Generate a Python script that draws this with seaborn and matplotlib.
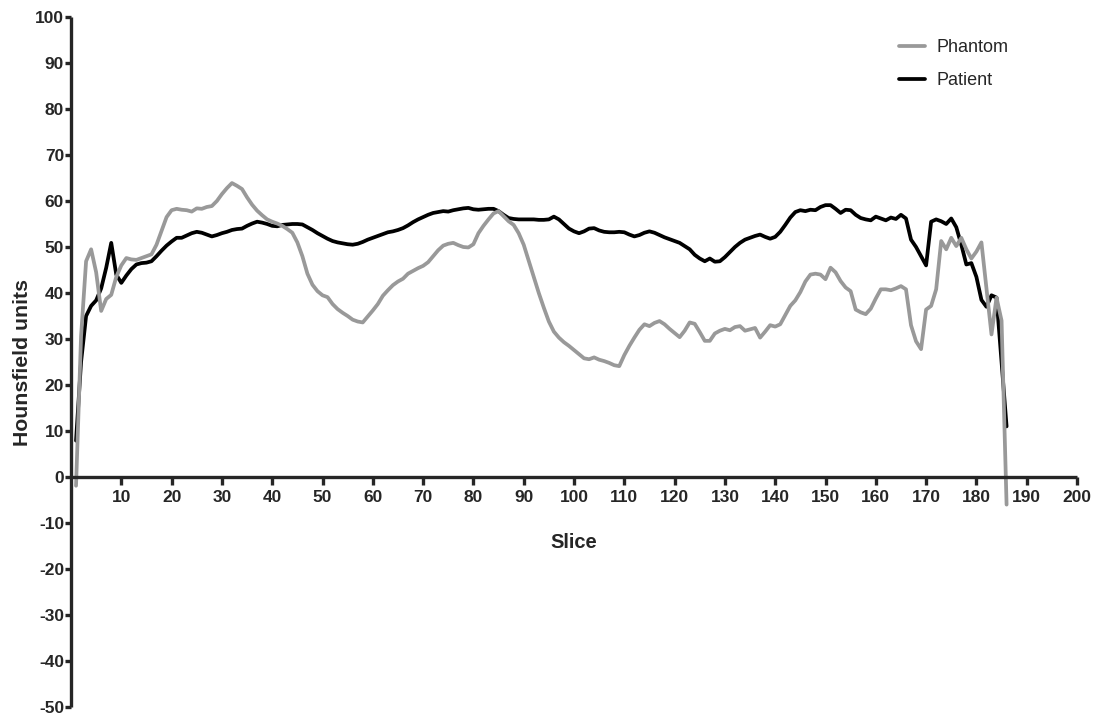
import matplotlib

matplotlib.use("Agg")
import matplotlib.pyplot as plt
import numpy as np
import pandas as pd
import seaborn as sns

# Mean HU per slice (slices 1..186)
patient = [
    7.9, 25.0, 35.0, 37.2, 38.4, 41.0, 45.5, 50.9, 44.0, 42.2,
    43.8, 45.2, 46.2, 46.5, 46.6, 46.9, 48.0, 49.2, 50.3, 51.2,
    52.0, 52.0, 52.5, 53.0, 53.3, 53.1, 52.7, 52.3, 52.6, 53.0,
    53.3, 53.7, 53.9, 54.0, 54.6, 55.1, 55.5, 55.3, 55.0, 54.6,
    54.5, 54.8, 54.9, 55.0, 55.0, 54.9, 54.3, 53.7, 53.0, 52.4,
    51.8, 51.3, 51.0, 50.8, 50.6, 50.5, 50.7, 51.1, 51.6, 52.0,
    52.4, 52.8, 53.2, 53.4, 53.7, 54.1, 54.7, 55.4, 56.0, 56.5,
    57.0, 57.4, 57.6, 57.8, 57.7, 58.0, 58.2, 58.4, 58.5, 58.2,
    58.1, 58.2, 58.3, 58.3, 57.8, 57.0, 56.3, 56.1, 56.0, 56.0,
    56.0, 56.0, 55.9, 55.9, 56.0, 56.6, 56.0, 55.0, 54.0, 53.4,
    53.0, 53.4, 54.0, 54.1, 53.6, 53.3, 53.2, 53.2, 53.3, 53.2,
    52.7, 52.3, 52.6, 53.1, 53.4, 53.1, 52.6, 52.1, 51.7, 51.3,
    50.9, 50.2, 49.5, 48.3, 47.5, 46.9, 47.5, 46.8, 46.9, 47.8,
    48.9, 50.0, 50.9, 51.6, 52.0, 52.4, 52.7, 52.2, 51.8, 52.2,
    53.3, 54.8, 56.4, 57.6, 58.0, 57.8, 58.1, 58.0, 58.7, 59.1,
    59.1, 58.3, 57.4, 58.1, 58.0, 57.0, 56.3, 56.0, 55.8, 56.6,
    56.2, 55.8, 56.4, 56.1, 57.0, 56.2, 51.6, 50.0, 48.0, 46.0,
    55.5, 56.0, 55.6, 55.0, 56.2, 54.3, 50.5, 46.2, 46.5, 43.5,
    38.5, 37.0, 39.5, 39.0, 25.0, 11.0,
]

phantom = [
    -1.9, 30.6, 46.9, 49.5, 44.5, 36.1, 38.7, 39.6, 43.5, 46.0,
    47.6, 47.3, 47.2, 47.6, 48.0, 48.4, 50.5, 53.5, 56.5, 58.0,
    58.3, 58.1, 58.0, 57.7, 58.4, 58.3, 58.7, 58.9, 60.0, 61.5,
    62.8, 63.9, 63.3, 62.6, 60.8, 59.2, 57.9, 56.9, 56.0, 55.5,
    55.1, 54.6, 53.9, 53.1, 51.0, 48.0, 44.2, 41.8, 40.4, 39.5,
    39.1, 37.6, 36.5, 35.7, 35.0, 34.2, 33.8, 33.6, 34.9, 36.2,
    37.6, 39.4, 40.6, 41.7, 42.5, 43.1, 44.2, 44.8, 45.4, 45.9,
    46.7, 48.0, 49.3, 50.3, 50.7, 50.9, 50.4, 50.0, 49.9, 50.6,
    53.0, 54.6, 56.0, 57.3, 57.8, 56.7, 55.6, 54.8, 53.0, 50.5,
    47.0, 43.5, 40.0, 36.8, 33.8, 31.6, 30.3, 29.3, 28.5, 27.6,
    26.7, 25.8, 25.6, 26.0, 25.5, 25.2, 24.8, 24.3, 24.1, 26.5,
    28.5, 30.3, 32.0, 33.2, 32.8, 33.5, 33.9, 33.2, 32.2, 31.3,
    30.4, 31.8, 33.6, 33.3, 31.5, 29.6, 29.6, 31.2, 31.8, 32.2,
    31.9, 32.6, 32.8, 31.8, 32.1, 32.4, 30.3, 31.6, 33.0, 32.7,
    33.2, 35.2, 37.2, 38.4, 40.2, 42.5, 44.0, 44.2, 44.0, 43.0,
    45.5, 44.5, 42.6, 41.2, 40.4, 36.4, 35.8, 35.4, 36.6, 38.8,
    40.8, 40.8, 40.6, 41.0, 41.5, 40.8, 33.0, 29.5, 27.8, 36.4,
    37.2, 40.8, 51.3, 49.5, 52.0, 50.2, 52.0, 49.5, 47.5, 49.0,
    51.0, 41.0, 31.0, 39.0, 34.0, -6.0,
]

slices = list(range(1, len(patient) + 1))
series_names = ["Phantom", "Patient"]
series_colors = {"Phantom": "#999999", "Patient": "#000000"}

df = pd.concat(
    [
        pd.DataFrame({"Slice": slices, "HU": patient, "Series": "Patient"}),
        pd.DataFrame({"Slice": slices, "HU": phantom, "Series": "Phantom"}),
    ],
    ignore_index=True,
)

sns.set_style("ticks")
plt.rcParams["font.family"] = ["Liberation Sans", "DejaVu Sans"]
plt.rcParams["axes.unicode_minus"] = False

fig = plt.figure(figsize=(10.99, 7.14), dpi=100)
ax = fig.add_axes([71 / 1099, 7 / 714, 1006 / 1099, 690 / 714])

sns.lineplot(
    data=df,
    x="Slice",
    y="HU",
    hue="Series",
    hue_order=["Patient", "Phantom"],
    palette=series_colors,
    linewidth=2.7,
    legend=False,
    ax=ax,
)

ax.set_xlim(0, 200)
ax.set_ylim(-50, 100)
ax.spines["top"].set_visible(False)
ax.spines["right"].set_visible(False)
ax.spines["bottom"].set_position(("data", 0))
for side in ["left", "bottom"]:
    ax.spines[side].set_linewidth(2.4)
    ax.spines[side].set_capstyle("butt")

ax.set_xticks(np.arange(10, 201, 10))
ax.set_yticks(np.arange(-50, 101, 10))
ax.tick_params(axis="y", direction="out", length=4, width=2.4, pad=1,
               labelsize=12.5)
ax.tick_params(axis="x", direction="out", length=6, width=2.4, pad=3,
               labelsize=12.5)
for lab in ax.get_xticklabels() + ax.get_yticklabels():
    lab.set_fontweight("bold")

ax.set_xlabel("Slice", fontsize=14.5, fontweight="bold")
ax.xaxis.set_label_coords(0.5, 0.252)
ax.set_ylabel("Hounsfield units", fontsize=15.3, fontweight="bold")
ax.yaxis.set_label_coords(-0.039, 0.5)

line_by_label = {"Patient": ax.lines[0], "Phantom": ax.lines[1]}
leg = ax.legend(
    [line_by_label[s] for s in series_names],
    series_names,
    loc="upper left",
    bbox_to_anchor=(899 / 1099, 1 - 39 / 714),
    bbox_transform=fig.transFigure,
    frameon=False,
    borderpad=0,
    borderaxespad=0,
    fontsize=13,
    handlelength=1.45,
    handletextpad=0.65,
    labelspacing=0.9,
)

fig.savefig("out.png", dpi=100)
